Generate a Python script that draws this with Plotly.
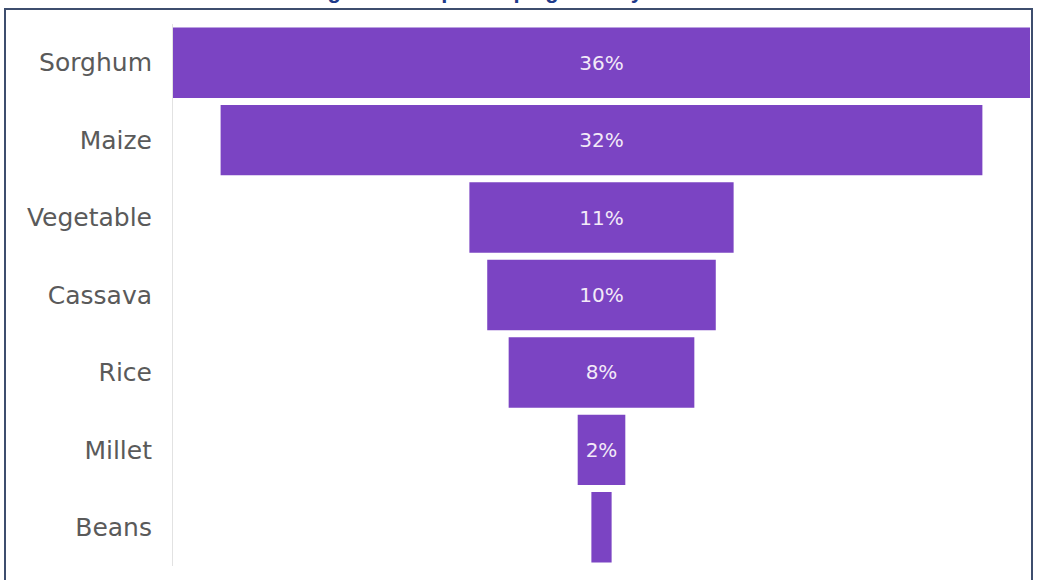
import plotly.graph_objects as go

crops = ["Sorghum", "Maize", "Vegetable", "Cassava", "Rice", "Millet", "Beans"]
shares = [36, 32, 11.1, 9.6, 7.8, 2.0, 0.85]
title_text = "Figure 4: Staple crops grown by households"

W, H = 1037, 580
ml, mr, mt, mb = 173, 7, 24, 14

fig = go.Figure(go.Funnel(
    y=crops,
    x=shares,
    marker=dict(color="#7B44C3", line=dict(width=0)),
    texttemplate="%{value:.0f}%",
    textposition="inside",
    insidetextfont=dict(color="#F3EAF8", size=20, family="DejaVu Sans"),
    connector=dict(visible=False),
    constraintext="inside",
))

fig.update_layout(
    width=W, height=H,
    margin=dict(l=ml, r=mr, t=mt, b=mb),
    paper_bgcolor="white",
    plot_bgcolor="white",
    funnelgap=0.09,
    showlegend=False,
    uniformtext=dict(minsize=15, mode="hide"),
    xaxis=dict(visible=False, range=[-18, 18]),
    yaxis=dict(
        showline=True, linecolor="#E2E2E2", linewidth=1,
        showgrid=False, ticks="", ticklabelstandoff=15,
        tickfont=dict(family="DejaVu Sans", size=25, color="#5A5A5A"),
    ),
    shapes=[dict(
        type="rect", xref="paper", yref="paper",
        x0=(5 - ml) / (W - ml - mr), x1=(1032 - ml) / (W - ml - mr),
        y0=-0.1, y1=1 + (mt - 9) / (H - mt - mb),
        line=dict(color="#3E4E6E", width=2), fillcolor="rgba(0,0,0,0)",
        layer="above",
    )],
    annotations=[dict(
        text="<b>" + title_text + "</b>", showarrow=False,
        xref="paper", yref="paper",
        x=(540 - ml) / (W - ml - mr), y=1 + (mt - 5) / (H - mt - mb),
        xanchor="center", yanchor="bottom",
        font=dict(family="Liberation Sans", size=22, color="#1F3A8A"),
    )],
)

fig.write_html("out.html")
